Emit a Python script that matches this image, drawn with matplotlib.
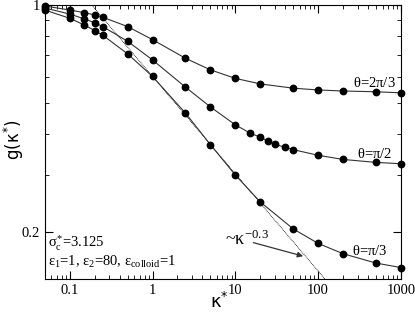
import numpy
import matplotlib
matplotlib.use('Agg')
from matplotlib import pyplot
from matplotlib.ticker import FixedLocator, NullFormatter, FixedFormatter

# kappa* values for each curve
kappa_top = [0.05, 0.1, 0.15, 0.2, 0.25, 0.5, 1, 2.5, 5, 10, 20, 50, 100, 200, 500, 1000]
g_top = [0.993, 0.965, 0.947, 0.932, 0.917, 0.858, 0.782, 0.685, 0.631, 0.594,
         0.571, 0.554, 0.547, 0.543, 0.540, 0.536]

kappa_mid = [0.05, 0.1, 0.15, 0.2, 0.25, 0.5, 1, 2.5, 5, 10, 15, 20, 25, 30, 40, 50,
             100, 200, 500, 1000]
g_mid = [0.979, 0.938, 0.906, 0.882, 0.858, 0.773, 0.677, 0.558, 0.485, 0.427,
         0.403, 0.391, 0.380, 0.372, 0.364, 0.358, 0.344, 0.334, 0.327, 0.324]

kappa_bot = [0.05, 0.1, 0.15, 0.2, 0.25, 0.5, 1, 2.5, 5, 10, 20, 50, 100, 200, 500, 1000]
g_bot = [0.965, 0.910, 0.868, 0.834, 0.807, 0.707, 0.602, 0.464, 0.371, 0.299,
         0.247, 0.204, 0.184, 0.171, 0.160, 0.155]

# power-law guide ~ kappa^-0.3
fit_amp = 0.602
fit_exp = -0.3

curve_labels = [r'$\theta$=2$\pi$/3', r'$\theta$=$\pi$/2', r'$\theta$=$\pi$/3']

pyplot.rcParams['font.family'] = ['Liberation Serif', 'DejaVu Serif']
pyplot.rcParams['mathtext.fontset'] = 'custom'
pyplot.rcParams['mathtext.rm'] = 'Liberation Serif'
pyplot.rcParams['mathtext.it'] = 'Liberation Serif'

fig = pyplot.figure(figsize=(4.15, 3.13), dpi=100)
ax = fig.add_axes([0.108, 0.109, 0.858, 0.875])

line_opts = dict(color='#333333', linewidth=0.8, marker='o', markersize=4.6,
                 markerfacecolor='black', markeredgecolor='black')
for k, g in [(kappa_top, g_top), (kappa_mid, g_mid), (kappa_bot, g_bot)]:
    ax.plot(k, g, clip_on=False, zorder=3, **line_opts)

kfit = numpy.logspace(numpy.log10(0.05), 3, 200)
ax.plot(kfit, fit_amp * kfit ** fit_exp, color='black', linestyle=(0, (1, 1)),
        linewidth=0.6)

ax.set_xscale('log')
ax.set_yscale('log')
ax.set_xlim(0.05, 1000)
ax.set_ylim(0.143, 1)

ax.xaxis.set_major_locator(FixedLocator([0.1, 1, 10, 100, 1000]))
ax.xaxis.set_major_formatter(FixedFormatter(['0.1', '1', '10', '100', '1000']))
xminor = [m * 10.0 ** e for e in range(-2, 3) for m in range(2, 10)]
ax.xaxis.set_minor_locator(FixedLocator(xminor))
ax.xaxis.set_minor_formatter(NullFormatter())

ax.yaxis.set_major_locator(FixedLocator([0.2, 1]))
ax.yaxis.set_major_formatter(FixedFormatter(['0.2', '1']))
ax.yaxis.set_minor_locator(FixedLocator([0.3, 0.4, 0.5, 0.6, 0.7, 0.8, 0.9]))
ax.yaxis.set_minor_formatter(NullFormatter())

ax.tick_params(which='both', direction='in', top=True, right=True, labelsize=10.5)
ax.tick_params(which='major', length=6, width=0.8)
ax.tick_params(which='minor', length=3, width=0.6)
ax.tick_params(axis='x', pad=4)

ax.set_xlabel(r'κ$^{*}$', fontsize=13, family=['DejaVu Sans'], va='baseline')
ax.set_ylabel(r'g(κ$^{*}$)', fontsize=12, family=['DejaVu Sans'], va='center')
ax.xaxis.label.set_math_fontfamily('dejavusans')
ax.yaxis.label.set_math_fontfamily('dejavusans')
ax.xaxis.set_label_coords(0.49, -0.105)
ax.yaxis.set_label_coords(-0.086, 0.507)

ax.text(871, 0.575, curve_labels[0], fontsize=10.5, ha='right', va='center')
ax.text(777, 0.348, curve_labels[1], fontsize=10.5, ha='right', va='center')
ax.text(697, 0.174, curve_labels[2], fontsize=10.5, ha='right', va='center')

ax.text(0.055, 0.184, r'$\sigma_c^{*}$=3.125', fontsize=10.5, va='center')
ax.text(0.055, 0.161, r'$\epsilon_1$=1, $\epsilon_2$=80, $\epsilon_{\rm colloid}$=1',
        fontsize=10.5, va='center')

ax.text(7.6, 0.189, r'~$\kappa^{-0.3}$', fontsize=13, ha='left', va='center')
ax.annotate('', xy=(66, 0.168), xytext=(16.5, 0.185),
            arrowprops=dict(arrowstyle='-|>', color='#333333', lw=0.9,
                            mutation_scale=8, shrinkA=0, shrinkB=0))

fig.savefig('out.png', dpi=100)
